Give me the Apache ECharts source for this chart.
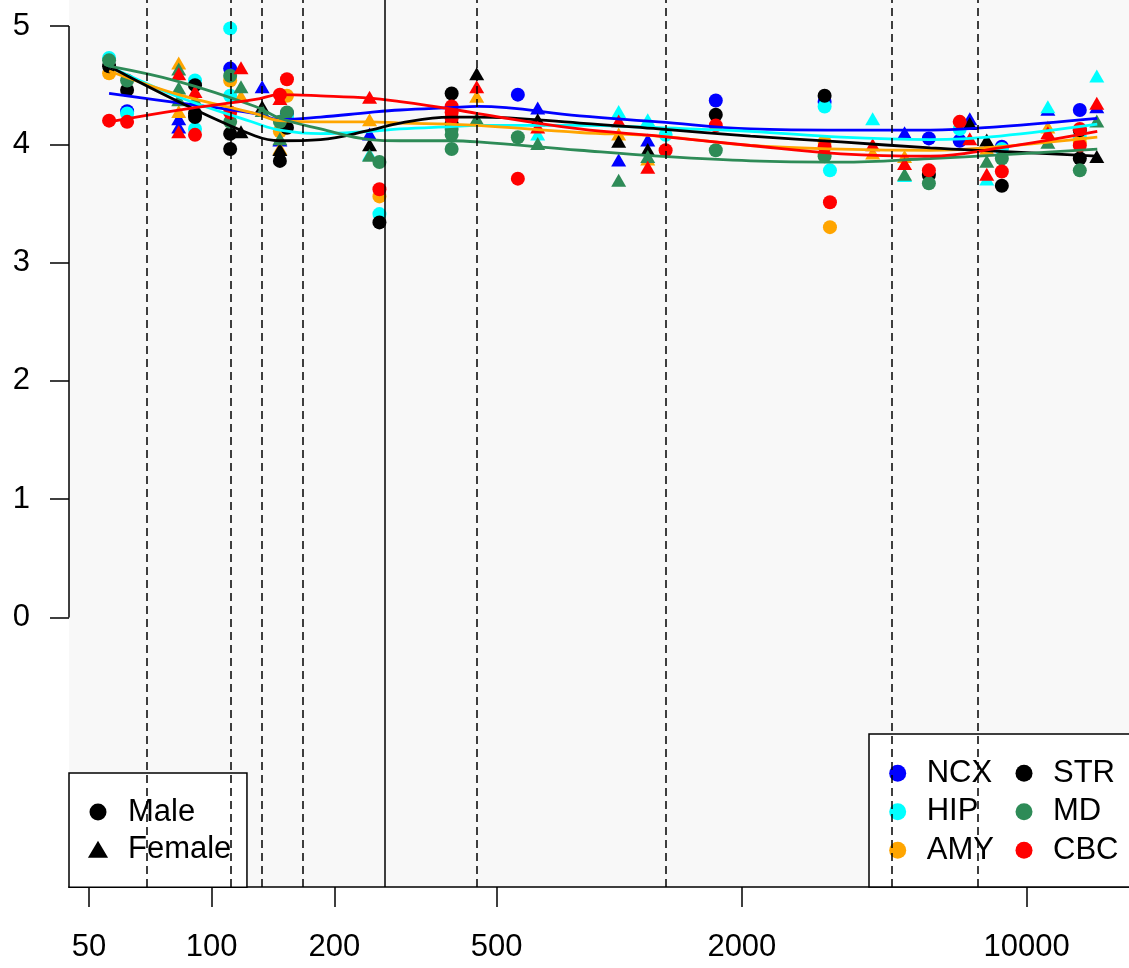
<!DOCTYPE html>
<html>
<head>
<meta charset="utf-8">
<script src="https://cdn.jsdelivr.net/npm/echarts@6/dist/echarts.min.js"></script>
<style>
  html, body { margin: 0; padding: 0; background: #fff; }
  #main { width: 1129px; height: 968px; }
</style>
</head>
<body>
<div id="main"></div>
<script>
// regions and their colours
var regions = ['NCX', 'HIP', 'AMY', 'STR', 'MD', 'CBC'];
var colorList = ['#0000ff', '#00ffff', '#ffa500', '#000000', '#2e8b57', '#ff0000'];

// axis ticks
var xTicks = [50, 100, 200, 500, 2000, 10000];
var yTicks = [0, 1, 2, 3, 4, 5];

// reference ages (vertical lines)
var dashedAges = [69.4, 111.3, 132.4, 167.2, 447.7, 1300, 4656, 7567];
var solidAges = [265.4];

// observed values, [age, value]
var ncxMale = [[62, 4.28], [111, 4.64], [153, 4.26], [564, 4.42], [1726, 4.37], [3192, 4.36],
  [5754, 4.05], [6849, 4.03], [8690, 3.98], [13500, 4.29]];
var ncxFemale = [[83, 4.20], [83, 4.13], [133, 4.47], [147, 4.02], [244, 4.07], [631, 4.29],
  [997, 3.85], [1175, 4.02], [5015, 4.08], [7250, 4.20], [11270, 4.28], [14860, 4.30]];

var hipMale = [[56, 4.73], [62, 4.26], [91, 4.54], [91, 4.13], [111, 4.98], [111, 4.41], [153, 4.23],
  [258, 3.41], [1300, 4.08], [3192, 4.32], [3290, 3.78], [6849, 4.13], [8690, 3.96], [13500, 4.06]];
var hipFemale = [[244, 3.90], [631, 4.07], [997, 4.26], [1175, 4.19], [4188, 4.20], [5015, 3.72],
  [7980, 3.69], [11270, 4.30], [14860, 4.56]];

var amyMale = [[56, 4.60], [111, 4.54], [147, 4.11], [153, 4.41], [258, 3.56], [3192, 4.02],
  [3290, 3.30], [13500, 4.02]];
var amyFemale = [[83, 4.67], [83, 4.26], [118, 4.39], [147, 3.95], [244, 4.19], [447, 4.39],
  [997, 4.07], [1175, 3.86], [4188, 3.91], [5015, 3.88], [7980, 3.95], [11270, 4.13]];

var strMale = [[56, 4.66], [62, 4.46], [91, 4.50], [91, 4.26], [91, 4.23], [111, 4.09], [111, 3.96],
  [147, 3.86], [153, 4.14], [258, 3.34], [388, 4.43], [388, 4.17], [1726, 4.25], [3192, 4.41],
  [5754, 3.74], [8690, 3.65], [13500, 4.12], [13500, 3.88]];
var strFemale = [[118, 4.09], [133, 4.30], [147, 3.94], [244, 3.98], [447, 4.58], [631, 4.19],
  [997, 4.01], [1175, 3.94], [7250, 4.16], [7980, 4.02], [14860, 3.88]];

var mdMale = [[56, 4.71], [62, 4.54], [111, 4.58], [111, 4.19], [147, 4.19], [153, 4.27], [258, 3.85],
  [388, 4.13], [388, 4.08], [388, 3.96], [564, 4.06], [1726, 3.95], [3192, 3.90], [5754, 3.67],
  [8690, 3.88], [13500, 3.78]];
var mdFemale = [[83, 4.62], [83, 4.46], [83, 4.36], [91, 4.36], [118, 4.47], [133, 4.27], [147, 4.03],
  [244, 3.89], [447, 4.20], [631, 3.99], [997, 3.68], [1175, 3.88], [5015, 3.73], [7980, 3.84],
  [11270, 4.00], [14860, 4.18]];

var cbcMale = [[56, 4.20], [62, 4.19], [91, 4.08], [111, 4.27], [147, 4.42], [153, 4.55], [258, 3.62],
  [388, 4.32], [388, 4.27], [388, 4.22], [564, 3.71], [1300, 3.95], [1726, 4.16], [3192, 3.98],
  [3290, 3.51], [5754, 3.78], [6849, 4.19], [8690, 3.77], [13500, 4.13], [13500, 3.99]];
var cbcFemale = [[83, 4.58], [83, 4.09], [91, 4.43], [118, 4.63], [147, 4.37], [244, 4.38], [447, 4.47],
  [631, 4.13], [997, 4.18], [1175, 3.79], [4188, 3.98], [5015, 3.82], [7250, 4.03], [7980, 3.73],
  [11270, 4.08], [14860, 4.33]];

// smoothed trend per region, sampled at fitAges
var fitAges = [56, 83, 128, 147, 185, 245, 290, 385, 450, 800, 1250, 2100, 3500, 5800, 8600, 14900];
var ncxFit = [4.43, 4.35, 4.26, 4.21, 4.23, 4.27, 4.29, 4.31, 4.32, 4.24, 4.19, 4.13, 4.12, 4.12, 4.15, 4.22];
var hipFit = [4.66, 4.40, 4.18, 4.12, 4.09, 4.11, 4.13, 4.15, 4.16, 4.16, 4.14, 4.11, 4.06, 4.04, 4.07, 4.17];
var amyFit = [4.62, 4.42, 4.26, 4.20, 4.19, 4.19, 4.18, 4.17, 4.16, 4.10, 4.07, 3.99, 3.96, 3.95, 3.98, 4.06];
var strFit = [4.66, 4.36, 4.07, 4.03, 4.04, 4.12, 4.18, 4.23, 4.23, 4.18, 4.13, 4.07, 4.02, 3.97, 3.94, 3.90];
var mdFit = [4.66, 4.53, 4.32, 4.22, 4.13, 4.04, 4.03, 4.03, 4.02, 3.95, 3.90, 3.86, 3.85, 3.88, 3.91, 3.96];
var cbcFit = [4.19, 4.29, 4.38, 4.42, 4.41, 4.39, 4.36, 4.30, 4.26, 4.13, 4.07, 3.99, 3.92, 3.90, 3.97, 4.11];

var maleData = [ncxMale, hipMale, amyMale, strMale, mdMale, cbcMale];
var femaleData = [ncxFemale, hipFemale, amyFemale, strFemale, mdFemale, cbcFemale];
var fitData = [ncxFit, hipFit, amyFit, strFit, mdFit, cbcFit];

var xMin = 44.65, xMax = 17826;
var yMin = -2.278, yMax = 5.22;
var fontFamily = '"Liberation Sans", Arial, Helvetica, sans-serif';

var chart = echarts.init(document.getElementById('main'));

var series = [];
regions.forEach(function (name, i) {
  series.push({
    name: name, type: 'scatter', data: maleData[i],
    symbol: 'circle', symbolSize: 14,
    itemStyle: { color: colorList[i], opacity: 1 }, z: 3
  });
  series.push({
    name: name, type: 'scatter', data: femaleData[i],
    symbol: 'triangle', symbolSize: [15, 13], symbolOffset: [0, -2],
    itemStyle: { color: colorList[i], opacity: 1 }, z: 3
  });
});
regions.forEach(function (name, i) {
  series.push({
    name: name, type: 'line',
    data: fitAges.map(function (a, j) { return [a, fitData[i][j]]; }),
    showSymbol: false, smooth: 0.4,
    lineStyle: { color: colorList[i], width: 2.8 },
    itemStyle: { color: colorList[i] },
    z: 4, silent: true
  });
});
// legend-only series for sex
series.push({ name: 'Male', type: 'scatter', data: [], symbol: 'circle', itemStyle: { color: '#000', opacity: 1 } });
series.push({ name: 'Female', type: 'scatter', data: [], symbol: 'triangle', itemStyle: { color: '#000', opacity: 1 } });
// y axis line from 0 to 5 plus reference lines
series.push({
  name: 'yaxis', type: 'line', data: [[xMin, yTicks[0]], [xMin, yTicks[yTicks.length - 1]]],
  symbol: 'none', clip: false, silent: true,
  lineStyle: { color: '#000', width: 1.5 }, z: 5,
  markLine: {
    silent: true, symbol: 'none', z: 5,
    label: { show: false },
    lineStyle: { color: '#000', width: 1.5, type: [8, 5] },
    data: dashedAges.map(function (a) { return { xAxis: a }; })
      .concat(solidAges.map(function (a) { return { xAxis: a, lineStyle: { type: 'solid' } }; }))
  }
});

function regionItems(names) {
  return names.map(function (n) {
    return { name: n, icon: 'circle', itemStyle: { color: colorList[regions.indexOf(n)] } };
  });
}

chart.setOption({
  animation: false,
  textStyle: { fontFamily: fontFamily },
  grid: {
    left: 69, right: 0, top: 0, bottom: 81,
    show: true, backgroundColor: '#f8f8f8', borderWidth: 0
  },
  xAxis: {
    type: 'log', logBase: 10, min: xMin, max: xMax,
    axisLine: { show: true, onZero: false, lineStyle: { color: '#000', width: 1.5 } },
    axisTick: { show: true, length: 20, customValues: xTicks, lineStyle: { color: '#000', width: 1.5 } },
    axisLabel: {
      customValues: xTicks, margin: 45, fontSize: 31, color: '#000', fontFamily: fontFamily,
      formatter: function (v) { return String(v); }
    },
    splitLine: { show: false },
    minorTick: { show: false }
  },
  yAxis: {
    type: 'value', min: yMin, max: yMax,
    axisLine: { show: false },
    axisTick: { show: true, length: 19, customValues: yTicks, lineStyle: { color: '#000', width: 1.5 } },
    axisLabel: { customValues: yTicks, margin: 39, fontSize: 31, color: '#000', fontFamily: fontFamily },
    splitLine: { show: false }
  },
  legend: [
    {
      data: [
        { name: 'Male', icon: 'circle', itemStyle: { color: '#000', opacity: 1 } },
        { name: 'Female', icon: 'path://M9.5,0L19,16L0,16Z', itemStyle: { color: '#000', opacity: 1 } }
      ],
      orient: 'vertical', left: 69, top: 773,
      itemWidth: 50, itemHeight: 17, itemGap: 6.3,
      padding: [23.5, 15.6, 22.5, 18.9],
      backgroundColor: '#fff', borderColor: '#000', borderWidth: 1.5,
      itemStyle: { color: '#000', opacity: 1, borderWidth: 0 },
      textStyle: { fontSize: 31, color: '#000', fontFamily: fontFamily },
      selectedMode: false
    },
    {
      // first column, carries the box
      data: regionItems(['NCX', 'HIP', 'AMY']),
      orient: 'vertical', left: 869, top: 734,
      itemWidth: 48, itemHeight: 17, itemGap: 7.5,
      padding: [23.8, 160, 21.2, 20.2],
      backgroundColor: '#fff', borderColor: '#000', borderWidth: 1.5,
      textStyle: { fontSize: 31, color: '#000', fontFamily: fontFamily },
      selectedMode: false
    },
    {
      // second column
      data: regionItems(['STR', 'MD', 'CBC']),
      orient: 'vertical', left: 1015.5, top: 757.8,
      itemWidth: 48, itemHeight: 17, itemGap: 7.5,
      padding: 0,
      textStyle: { fontSize: 31, color: '#000', fontFamily: fontFamily },
      selectedMode: false
    }
  ],
  series: series
});
</script>
</body>
</html>
